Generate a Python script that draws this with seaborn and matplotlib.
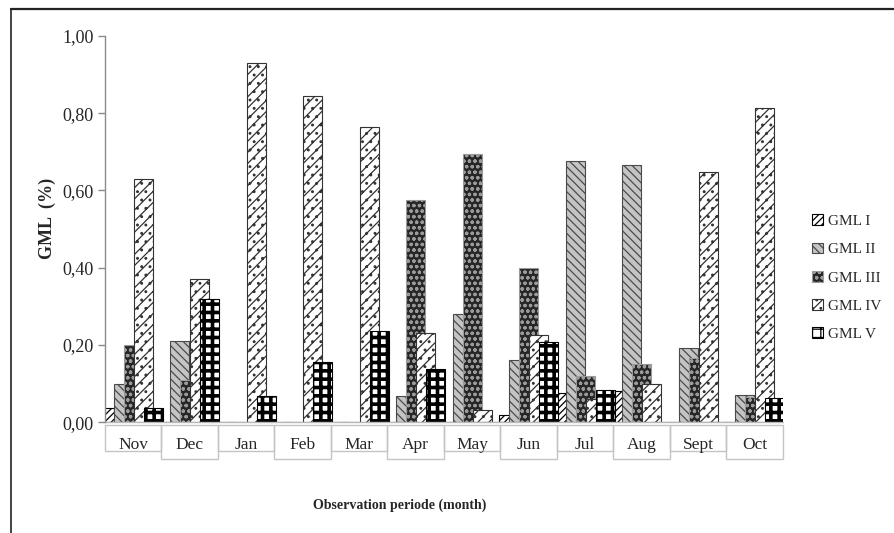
"""GML (%) per observation month, grouped hatched bars in the old Excel look."""

import matplotlib
matplotlib.use("Agg")
import matplotlib.pyplot as plt  # noqa: E402
import seaborn as sns  # noqa: E402
import pandas as pd  # noqa: E402
from matplotlib.lines import Line2D  # noqa: E402
from matplotlib.patches import Patch, Rectangle  # noqa: E402

months = ["Nov", "Dec", "Jan", "Feb", "Mar", "Apr", "May", "Jun", "Jul", "Aug", "Sept", "Oct"]
series = ["GML I", "GML II", "GML III", "GML IV", "GML V"]
gml_1 = [0.037, 0.0, 0.0, 0.0, 0.0, 0.0, 0.0, 0.018, 0.075, 0.08, 0.0, 0.0]
gml_2 = [0.10, 0.21, 0.0, 0.0, 0.0, 0.068, 0.28, 0.16, 0.676, 0.667, 0.193, 0.07]
gml_3 = [0.20, 0.11, 0.0, 0.0, 0.0, 0.575, 0.694, 0.40, 0.119, 0.15, 0.165, 0.065]
gml_4 = [0.63, 0.37, 0.93, 0.845, 0.763, 0.23, 0.031, 0.225, 0.06, 0.10, 0.648, 0.814]
gml_5 = [0.037, 0.32, 0.067, 0.156, 0.237, 0.137, 0.0, 0.208, 0.083, 0.0, 0.0, 0.062]
yticks = [0.0, 0.2, 0.4, 0.6, 0.8, 1.0]

# face, edge, hatch for each series
styles = {
    "GML I": ("white", "black", "/////"),
    "GML II": ("#c4c4c4", "#4a4a4a", "\\\\\\\\"),
    "GML III": ("#262626", "#9a9a9a", "ooo"),
    "GML IV": ("white", "#333333", "///.."),
    "GML V": ("white", "black", "++"),
}

df = pd.DataFrame({
    "month": months * 5,
    "series": sum([[s] * len(months) for s in series], []),
    "gml": gml_1 + gml_2 + gml_3 + gml_4 + gml_5,
})

sns.set_theme(style="white")
plt.rcParams["font.family"] = ["Liberation Serif", "DejaVu Serif"]
plt.rcParams["hatch.linewidth"] = 0.9

fig = plt.figure(figsize=(8.94, 5.33), dpi=100)
ax = fig.add_axes([0.1174, 0.208, 0.7584, 0.7245])

sns.barplot(data=df, x="month", y="gml", hue="series", order=months, hue_order=series,
            width=0.885, gap=0, palette=["white"] * 5, legend=False, ax=ax)

# Excel-style overlap: widen each bar around its dodge position
bar_w = 0.335
for name, cont in zip(series, ax.containers):
    face, edge, hatch = styles[name]
    for p in cont.patches:
        cx = p.get_x() + p.get_width() / 2
        p.set_x(cx - bar_w / 2)
        p.set_width(bar_w)
        p.set_facecolor(face)
        p.set_edgecolor(edge)
        p.set_hatch(hatch)
        p.set_linewidth(0.8)
        if name == "GML V" and hasattr(p, "set_hatch_linewidth"):
            p.set_hatch_linewidth(2.6)

ax.set_xlim(-0.5, len(months) - 0.5)
ax.set_ylim(0, 1.0)
ax.set_yticks(yticks)
ax.set_yticklabels([f"{v:.2f}".replace(".", ",") for v in yticks], fontsize=13)
ax.set_xticks([])
ax.set_xlabel("")
ax.set_ylabel("")
for side in ["top", "right", "bottom"]:
    ax.spines[side].set_visible(False)
ax.spines["left"].set_color("#8a8a8a")
ax.spines["left"].set_linewidth(1.0)
ax.tick_params(axis="y", left=True, length=5, width=1.0, color="#8a8a8a", pad=3)

# category boxes under the axis, like the two-level Excel axis
tr = ax.get_xaxis_transform()
for i, m in enumerate(months):
    bottom = -0.075 if i % 2 == 0 else -0.095
    ax.add_patch(Rectangle((i - 0.5, bottom), 1.0, -bottom - 0.008, transform=tr,
                           fill=False, edgecolor="#c4c4c4", linewidth=1.0, clip_on=False))
    ax.text(i, -0.06, m, transform=tr, ha="center", va="center", fontsize=12.5)
ax.axhline(0, color="#b8b8b8", linewidth=1.0, clip_on=False)

handles = [Patch(facecolor=styles[s][0], edgecolor=styles[s][1], hatch=styles[s][2],
                 linewidth=0.8) for s in series]
fig.legend(handles, series, loc="upper left", bbox_to_anchor=(0.9, 0.612),
           frameon=False, fontsize=11, handlelength=0.7, handleheight=0.7,
           handletextpad=0.3, labelspacing=0.95, borderpad=0)

fig.text(0.0526, 0.591, "GML  (%)", rotation=90, ha="center", va="center",
         fontsize=13, fontweight="bold")
fig.text(0.447, 0.0525, "Observation periode (month)", ha="center", va="center",
         fontsize=10, fontweight="bold")

# outer frame: top and left border of the original figure
fig.add_artist(Line2D([0.0123, 1.0], [0.983, 0.983], transform=fig.transFigure,
                      color="#222222", linewidth=1.6))
fig.add_artist(Line2D([0.0123, 0.0123], [0.0, 0.983], transform=fig.transFigure,
                      color="#222222", linewidth=1.2))

fig.savefig("out.png", dpi=100)
